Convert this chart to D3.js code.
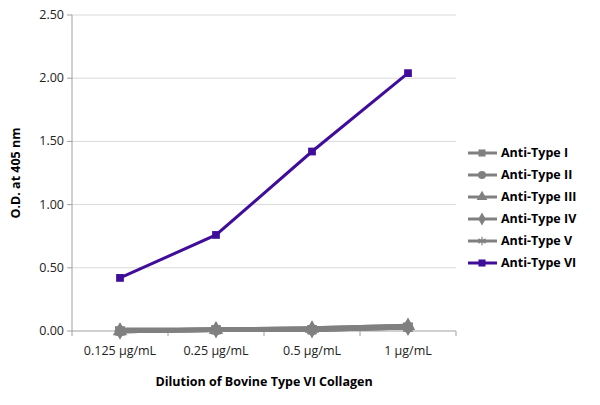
<!DOCTYPE html><html><head><meta charset="utf-8">
<script src="https://cdn.jsdelivr.net/npm/d3@7"></script>
<style>body{margin:0;background:#fff}text{font-family:"Open Sans",sans-serif}</style></head><body>
<svg id="c" width="600" height="405"></svg>
<script>
const categories=["0.125 µg/mL","0.25 µg/mL","0.5 µg/mL","1 µg/mL"];
const seriesNames=["Anti-Type I","Anti-Type II","Anti-Type III","Anti-Type IV","Anti-Type V","Anti-Type VI"];
const typeI=[0.00,0.01,0.01,0.03];
const typeII=[0.00,0.01,0.01,0.03];
const typeIII=[0.00,0.01,0.02,0.04];
const typeIV=[0.00,0.01,0.01,0.03];
const typeV=[0.01,0.01,0.02,0.04];
const typeVI=[0.42,0.76,1.42,2.04];
const yTicks=[0,0.5,1,1.5,2,2.5];
const values=[typeI,typeII,typeIII,typeIV,typeV,typeVI];
const colors=["#808080","#808080","#808080","#808080","#808080","#3f0d99"];
const symbols=[d3.symbolSquare,d3.symbolCircle,d3.symbolTriangle,d3.symbolDiamond,d3.symbolAsterisk,d3.symbolSquare];
const svg=d3.select("#c");
const x=d3.scaleBand().domain(categories).range([72,456]);
const y=d3.scaleLinear().domain([0,2.5]).range([331,15]);
svg.append("g").selectAll("line").data(yTicks).join("line").attr("x1",72).attr("x2",456)
 .attr("y1",d=>y(d)).attr("y2",d=>y(d)).attr("stroke",d=>d===0?"#a0a0a0":"#d9d9d9");
svg.append("line").attr("x1",72).attr("x2",72).attr("y1",15).attr("y2",331).attr("stroke","#a0a0a0");
svg.append("g").selectAll("line").data(d3.range(5)).join("line")
 .attr("x1",d=>72+d*x.bandwidth()).attr("x2",d=>72+d*x.bandwidth()).attr("y1",331).attr("y2",336).attr("stroke","#a0a0a0");
svg.append("g").selectAll("line").data(yTicks).join("line").attr("x1",67).attr("x2",72)
 .attr("y1",d=>y(d)).attr("y2",d=>y(d)).attr("stroke","#a0a0a0");
svg.append("g").selectAll("text").data(yTicks).join("text").attr("x",64).attr("y",d=>y(d)+4)
 .attr("text-anchor","end").attr("font-size",12.5).attr("fill","#222").text(d=>d.toFixed(2));
svg.append("g").selectAll("text").data(categories).join("text").attr("x",d=>x(d)+x.bandwidth()/2).attr("y",355)
 .attr("text-anchor","middle").attr("font-size",12.5).attr("fill","#222").text(d=>d);
svg.append("text").attr("x",264).attr("y",386).attr("text-anchor","middle").attr("font-size",12.5).attr("font-weight","bold").text("Dilution of Bovine Type VI Collagen");
svg.append("text").attr("transform","translate(20,173) rotate(-90)").attr("text-anchor","middle").attr("font-size",12.5).attr("font-weight","bold").text("O.D. at 405 nm");
const line=d3.line().x((d,i)=>x(categories[i])+x.bandwidth()/2).y(d=>y(d));
values.forEach((v,s)=>{
 const g=svg.append("g");
 g.append("path").attr("d",line(v)).attr("fill","none").attr("stroke",colors[s]).attr("stroke-width",s===5?3:4.5);
 g.selectAll("path.m").data(v).join("path").attr("class","m")
  .attr("transform",(d,i)=>`translate(${x(categories[i])+x.bandwidth()/2},${y(d)})`)
  .attr("d",d3.symbol(symbols[s],s===5?60:90)()).attr("fill",s===4?"none":colors[s]).attr("stroke",colors[s]).attr("stroke-width",s===4?1.5:0);
});
const lg=svg.append("g");
seriesNames.forEach((n,s)=>{
 const yy=153+s*22;
 lg.append("line").attr("x1",468).attr("x2",497).attr("y1",yy).attr("y2",yy).attr("stroke",colors[s]).attr("stroke-width",3);
 lg.append("path").attr("transform",`translate(482,${yy})`).attr("d",d3.symbol(symbols[s],50)())
  .attr("fill",s===4?"none":colors[s]).attr("stroke",colors[s]).attr("stroke-width",s===4?1.2:0);
 lg.append("text").attr("x",501).attr("y",yy+4).attr("font-size",12.5).attr("font-weight","bold").text(n);
});
</script></body></html>
